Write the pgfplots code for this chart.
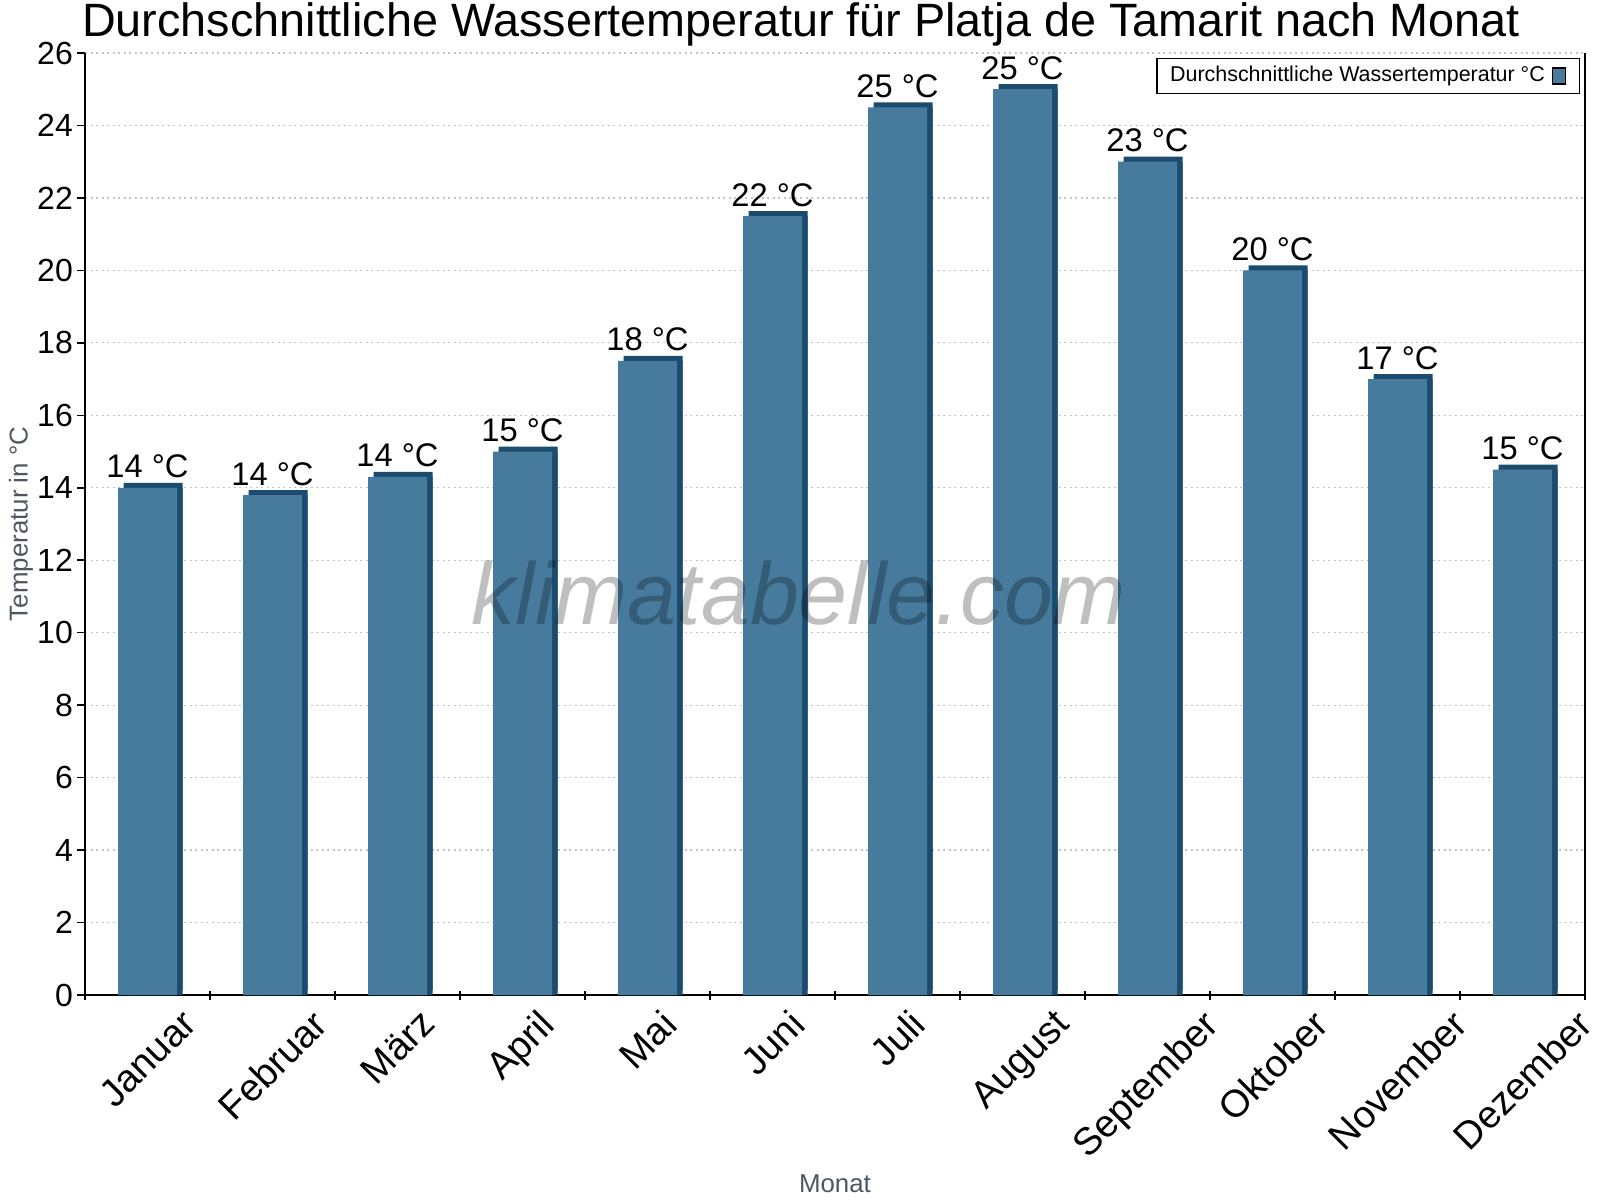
\documentclass[border=0pt]{standalone}
\usepackage{fontspec}
\setmainfont{Liberation Sans}
\usepackage{graphicx}
\usepackage{pgfplots}
\pgfplotsset{compat=1.18}

\definecolor{barfront}{HTML}{477B9E}
\definecolor{barside}{HTML}{1B4C6E}
\definecolor{labelgray}{HTML}{4D5761}
\definecolor{gridgray}{HTML}{C4C4C4}

\begin{document}
\begin{tikzpicture}
% page = 1600 x 1200 px, 1 px = 0.01 cm; axis box at (85,205)-(1585,1147) px
\path[use as bounding box] (-0.85cm,-2.05cm) rectangle (15.15cm,9.95cm);
\begin{axis}[
    at={(0,0)}, anchor=south west,
    scale only axis,
    width=15cm, height=9.42cm,
    xmin=-0.5, xmax=11.5,
    ymin=0, ymax=26,
    axis x line=bottom, axis y line=left,
    axis line style={-, black, line width=0.02cm},
    xtick={0,1,...,11},
    xticklabels={\rotatebox{45}{Januar},\rotatebox{45}{Februar},\rotatebox{45}{März},\rotatebox{45}{April},\rotatebox{45}{Mai},\rotatebox{45}{Juni},\rotatebox{45}{Juli},\rotatebox{45}{August},\rotatebox{45}{September},\rotatebox{45}{Oktober},\rotatebox{45}{November},\rotatebox{45}{Dezember}},
    major x tick style={draw=none},
    minor xtick={-0.5,0.5,...,11.5},
    xtick align=center,
    ytick align=outside,
    major tick length=0.08cm,
    minor tick length=0.09cm,
    tick style={black, line width=0.015cm},
    xticklabel style={anchor=north, inner sep=0pt, yshift=-0.08cm,
        font=\fontsize{10.9pt}{12pt}\selectfont},
    ytick={0,2,...,26},
    yticklabel style={inner sep=0pt, xshift=-0.035cm,
        font=\fontsize{9.1pt}{11pt}\selectfont},
    ymajorgrids,
    grid style={gridgray, dash pattern=on 0.02cm off 0.035cm, line width=0.012cm},
    /pgf/number format/assume math mode=true,
    legend style={at={(rel axis cs:0.9967,0.9947)}, anchor=north east,
        draw=black, line width=0.012cm, fill=white,
        font=\fontsize{6.1pt}{7pt}\selectfont,
        inner xsep=0.06cm, inner ysep=0pt},
    legend plot pos=right,
    clip=false,
]
% dark side/top of the bars (shifted up and right), plus side down to the axis
\addplot[ybar, bar width=0.59cm, bar shift=0.055cm, fill=barside, draw=none,
    yshift=0.05cm, forget plot] coordinates {
    (0,14) (1,13.8) (2,14.3) (3,15) (4,17.5) (5,21.5)
    (6,24.5) (7,25) (8,23) (9,20) (10,17) (11,14.5)
};
\addplot[ybar, bar width=0.59cm, bar shift=0.055cm, fill=barside, draw=none,
    forget plot] coordinates {
    (0,14) (1,13.8) (2,14.3) (3,15) (4,17.5) (5,21.5)
    (6,24.5) (7,25) (8,23) (9,20) (10,17) (11,14.5)
};
% front face with value labels
\addplot[ybar, bar width=0.59cm, bar shift=0cm, fill=barfront, draw=none,
    point meta=explicit symbolic,
    nodes near coords={\pgfplotspointmeta\ °C},
    every node near coord/.style={anchor=base, inner sep=0pt, yshift=0.1cm,
        font=\fontsize{9.3pt}{11pt}\selectfont, black},
    legend image code/.code={\draw[fill=barfront, draw=black, line width=0.012cm]
        (0.06cm,-0.08cm) rectangle (0.19cm,0.08cm);
        \path (0.27cm,0cm);}
    ] coordinates {
    (0,14) [14] (1,13.8) [14] (2,14.3) [14] (3,15) [15] (4,17.5) [18] (5,21.5) [22]
    (6,24.5) [25] (7,25) [25] (8,23) [23] (9,20) [20] (10,17) [17] (11,14.5) [15]
};
\addlegendentry{Durchschnittliche Wassertemperatur °C}
\draw[black, line width=0.02cm] (rel axis cs:1,0) -- (rel axis cs:1,1);
\end{axis}
% watermark
\node[anchor=base, text=black, text opacity=0.25,
    font=\fontsize{25pt}{30pt}\selectfont\itshape] at (7.14cm,3.71cm) {klimatabelle.com};
% title and axis titles
\node[anchor=base, font=\fontsize{13.3pt}{16pt}\selectfont] at (7.16cm,9.58cm)
    {Durchschnittliche Wassertemperatur für Platja de Tamarit nach Monat};
\node[rotate=90, text=labelgray, font=\fontsize{7.35pt}{9pt}\selectfont] at (-0.64cm,4.71cm)
    {Temperatur in °C};
\node[text=labelgray, font=\fontsize{7.35pt}{9pt}\selectfont] at (7.5cm,-1.89cm) {Monat};
\end{tikzpicture}
\end{document}
